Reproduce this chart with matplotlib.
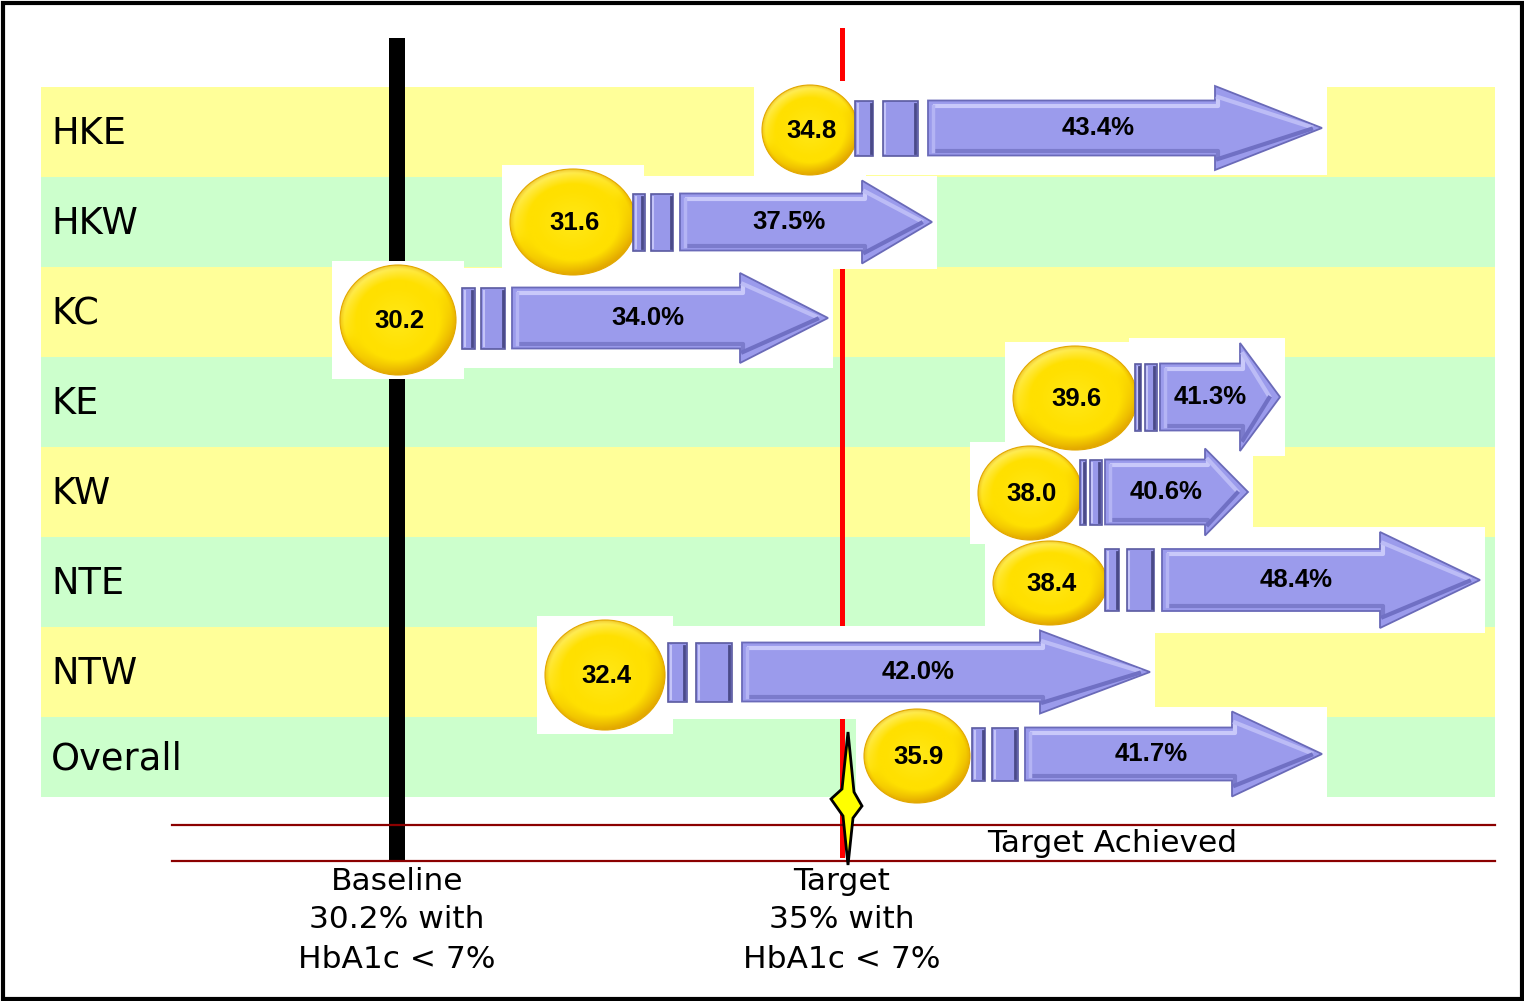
import numpy as np
import matplotlib
matplotlib.use("Agg")
import matplotlib.pyplot as plt
from matplotlib.patches import Rectangle, Ellipse, Polygon
from matplotlib.colors import to_rgb

# ---------------- data ----------------
regions = ["HKE", "HKW", "KC", "KE", "KW", "NTE", "NTW", "Overall"]
start_pct = [34.8, 31.6, 30.2, 39.6, 38.0, 38.4, 32.4, 35.9]
end_pct = [43.4, 37.5, 34.0, 41.3, 40.6, 48.4, 42.0, 41.7]
baseline_pct = 30.2
target_pct = 35

# ---------------- layout (canvas units, hand-placed graphic) ----------------
W, H = 1524, 1001
band_left, band_right = 41, 1495
band_top0, band_h = 87, 90
last_band_h = 80
circ_x = [810, 573, 398, 1075, 1030, 1050, 605, 917]
circ_rx = [48, 63, 58, 62, 52, 57, 60, 53]
circ_ry = [45, 53, 55, 52, 47, 42, 55, 47]
circ_dy = [-2, 0, 8, -4, 1, 1, 3, -1]
bar_x0 = [855, 633, 462, 1135, 1080, 1105, 668, 972]
body_x0 = [928, 680, 512, 1160, 1105, 1162, 742, 1025]
head_x0 = [1215, 862, 740, 1240, 1205, 1380, 1040, 1232]
tip_x = [1322, 932, 828, 1280, 1248, 1480, 1150, 1322]
body_h = [27.5, 28.5, 30.5, 33.5, 32.5, 31, 29.5, 26.5]
head_h = [42, 41.5, 45, 54, 43.5, 48, 41.5, 42.5]
arrow_dy = [-4, 0, 6, -5, 0, -2, 0, -3]
baseline_x, target_x = 397, 842

YELLOW, GREEN = "#FFFF99", "#CCFFCC"

fig = plt.figure(figsize=(W / 100, H / 100), dpi=100)
ax = fig.add_axes([0, 0, 1, 1])
ax.set_xlim(0, W)
ax.set_ylim(H, 0)
ax.axis("off")

# outer border
ax.add_patch(Rectangle((2.5, 2.5), W - 5, H - 5, fill=False, ec="black", lw=3, zorder=20))

# bands
row_c = []
for i, name in enumerate(regions):
    top = band_top0 + band_h * i
    h = last_band_h if i == len(regions) - 1 else band_h
    ax.add_patch(Rectangle((band_left, top), band_right - band_left, h,
                           fc=YELLOW if i % 2 == 0 else GREEN, ec="none", zorder=1))
    row_c.append(top + h / 2)
    ax.text(51, top + h / 2 + 2, name, ha="left", va="center",
            fontsize=26.5, family="DejaVu Sans", zorder=8)

# baseline and target lines
ax.add_patch(Rectangle((baseline_x - 8, 38), 16, 862 - 38, fc="black", ec="none", zorder=2))
ax.add_patch(Rectangle((target_x - 2.5, 28), 5, 858 - 28, fc="#FF0000", ec="none", zorder=2))

# horizontal dark red lines
for yy in (825, 861):
    ax.plot([172, band_right], [yy, yy], color="#8B0000", lw=1.6, zorder=2.5)


def circle_img(n=220):
    u = np.linspace(-1, 1, n)
    X, Y = np.meshgrid(u, u)
    r = np.sqrt(X ** 2 + Y ** 2)
    base = np.array(to_rgb("#FFE000"))
    img = np.ones((n, n, 3)) * base
    center = np.array(to_rgb("#FFE818"))
    w_c = np.clip(1 - r / 0.6, 0, 1)[..., None]
    img = img * (1 - w_c) + center * w_c
    rim = np.clip((r - 0.72) / 0.28, 0, 1)
    # light rim on top-left, darker orange rim on lower-right
    d = (X * 0.45 + Y * 0.9) / np.maximum(r, 1e-6)
    light = np.array(to_rgb("#FFF27A"))
    dark = np.array(to_rgb("#DFA200"))
    wl = (rim * np.clip(-d, 0, 1) * 0.9)[..., None]
    wd = (rim * np.clip(d + 0.2, 0, 1.2) / 1.2)[..., None]
    img = img * (1 - wl) + light * wl
    img = img * (1 - wd) + dark * wd
    edge = np.clip((r - 0.93) / 0.07, 0, 1)[..., None] * 0.55
    img = img * (1 - edge) + np.array(to_rgb("#E6AC00")) * edge
    return np.clip(img, 0, 1)


CIRC = circle_img()

for i in range(len(regions)):
    cx = circ_x[i]
    cy = row_c[i] + circ_dy[i]
    rx, ry = circ_rx[i], circ_ry[i]
    ay = row_c[i] + arrow_dy[i]
    # white backing boxes
    ax.add_patch(Rectangle((cx - rx - 8, cy - ry - 4), 2 * rx + 16, 2 * ry + 8,
                           fc="white", ec="none", zorder=3))
    ax.add_patch(Rectangle((bar_x0[i] - 6, ay - head_h[i] - 5), tip_x[i] - bar_x0[i] + 11,
                           2 * head_h[i] + 10, fc="white", ec="none", zorder=3))
    # circle
    ax.add_patch(Ellipse((cx, cy), 2 * rx, 2 * ry, fc="none", ec="#E2A800", lw=0.8, zorder=5))
    im = ax.imshow(CIRC, extent=[cx - rx, cx + rx, cy + ry, cy - ry],
                   origin="upper", zorder=4.5, interpolation="bilinear", aspect="auto")
    clip = Ellipse((cx, cy), 2 * rx, 2 * ry, transform=ax.transData)
    im.set_clip_path(clip)
    ax.text(cx + 1, cy + 1, f"{start_pct[i]:.1f}", ha="center", va="center",
            fontsize=18.5, fontweight="bold", family="Liberation Sans", zorder=9)

    # bars
    seg = body_x0[i] - bar_x0[i]
    bh = body_h[i]
    for f0, f1 in ((0.0, 0.25), (0.38, 0.86)):
        x0 = bar_x0[i] + f0 * seg
        x1 = bar_x0[i] + f1 * seg
        ax.add_patch(Rectangle((x0, ay - bh), x1 - x0, 2 * bh, fc="#9898EA",
                               ec="#5A5AA0", lw=1.2, zorder=5))
        ax.plot([x0 + 2.5, x0 + 2.5], [ay - bh + 3, ay + bh - 3], color="#C4C4F8", lw=1.5, zorder=5.2)
        ax.plot([x1 - 2.5, x1 - 2.5], [ay - bh + 3, ay + bh - 3], color="#4A4A88", lw=2, zorder=5.2)

    # main arrow
    hx, tx, hh = head_x0[i], tip_x[i], head_h[i]
    bx = body_x0[i]
    pts = [(bx, ay - bh), (hx, ay - bh), (hx, ay - hh), (tx, ay),
           (hx, ay + hh), (hx, ay + bh), (bx, ay + bh)]
    ax.add_patch(Polygon(pts, closed=True, fc="#9B9BEC", ec="#6A6AB8", lw=1.3, zorder=5))
    inset = 5
    ax.plot([bx + inset, hx + inset * 0.6, hx + inset * 0.6],
            [ay - bh + inset, ay - bh + inset, ay - hh + inset * 2.2],
            color="#C9C9FA", lw=3, zorder=5.3, solid_capstyle="butt")
    ax.plot([hx + inset * 0.6, tx - inset * 2.2], [ay - hh + inset * 2.2, ay - 1],
            color="#BCBCF6", lw=3, zorder=5.3)
    ax.plot([bx + inset, hx + inset * 0.6, hx + inset * 0.6],
            [ay + bh - inset, ay + bh - inset, ay + hh - inset * 2.2],
            color="#7B7BCC", lw=3, zorder=5.3, solid_capstyle="butt")
    ax.plot([hx + inset * 0.6, tx - inset * 2.2], [ay + hh - inset * 2.2, ay + 1],
            color="#7070C4", lw=3, zorder=5.3)
    ax.plot([bx + inset, bx + inset], [ay - bh + inset, ay + bh - inset],
            color="#B4B4F4", lw=2.5, zorder=5.3)
    lx = (bx + (hx + tx) / 2) / 2
    ax.text(lx, ay, f"{end_pct[i]:.1f}%", ha="center", va="center",
            fontsize=18.5, fontweight="bold", family="Liberation Sans", zorder=9)

# star marker at target
star = [(848, 732), (854, 792), (862, 806), (853, 818), (848, 865),
        (843, 816), (831, 799), (842, 789)]
ax.add_patch(Polygon(star, closed=True, fc="#FFFF00", ec="black", lw=2, zorder=7))

# texts
ax.text(1112, 843, "Target Achieved", ha="center", va="center", fontsize=22.5,
        family="DejaVu Sans", zorder=9)
base_lines = ["Baseline", f"{baseline_pct}% with", "HbA1c < 7%"]
targ_lines = ["Target", f"{target_pct}% with", "HbA1c < 7%"]
for k, (a, b) in enumerate(zip(base_lines, targ_lines)):
    yy = 881 + 39 * k
    ax.text(baseline_x, yy, a, ha="center", va="center", fontsize=22.5,
            family="DejaVu Sans", zorder=9)
    ax.text(target_x, yy, b, ha="center", va="center", fontsize=22.5,
            family="DejaVu Sans", zorder=9)

fig.savefig("out.png", dpi=100)
